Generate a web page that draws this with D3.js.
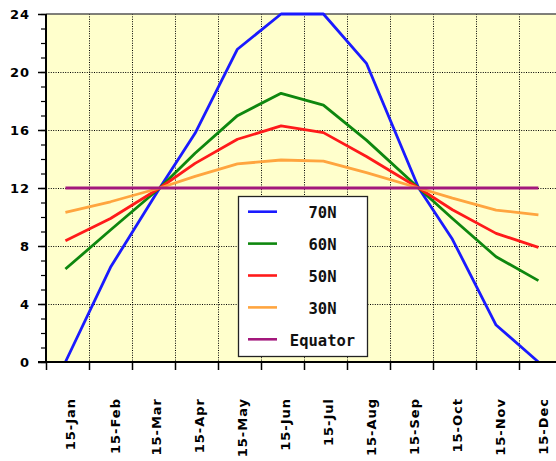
<!DOCTYPE html>
<html>
<head>
<meta charset="utf-8">
<script src="https://cdn.jsdelivr.net/npm/d3@7/dist/d3.min.js"></script>
<style>
  html, body { margin: 0; padding: 0; background: #ffffff; }
  svg { display: block; }
</style>
</head>
<body>
<script>
// ---- data ----
const dates = ["15-Jan","15-Feb","21-Mar","15-Apr","15-May","15-Jun","15-Jul","15-Aug","21-Sep","15-Oct","15-Nov","15-Dec"];
const monthNames = ["Jan","Feb","Mar","Apr","May","Jun","Jul","Aug","Sep","Oct","Nov","Dec"];
const daysInMonth = [31,28,31,30,31,30,31,31,30,31,30,31];
const tickLabels = ["15-Jan","15-Feb","15-Mar","15-Apr","15-May","15-Jun","15-Jul","15-Aug","15-Sep","15-Oct","15-Nov","15-Dec"];
const yTicks = [0, 4, 8, 12, 16, 20, 24];

const lat70   = [0, 6.53, 12, 15.77, 21.57, 24, 24, 20.6, 12, 8.46, 2.55, 0];
const lat60   = [6.41, 9.1, 12, 14.4, 16.99, 18.53, 17.72, 15.3, 12, 9.9, 7.26, 5.61];
const lat50   = [8.37, 9.9, 12, 13.7, 15.36, 16.28, 15.82, 14.17, 12, 10.5, 8.87, 7.91];
const lat30   = [10.32, 11.05, 12, 12.8, 13.66, 13.93, 13.86, 13.06, 12, 11.3, 10.48, 10.14];
const equator = [12, 12, 12, 12, 12, 12, 12, 12, 12, 12, 12, 12];

const seriesNames  = ["70N", "60N", "50N", "30N", "Equator"];
const seriesValues = [lat70, lat60, lat50, lat30, equator];
const seriesColors = ["#1a1aff", "#0e870e", "#ff1a1a", "#ffa53f", "#a3187c"];

// month position: month index + fraction of month elapsed
function monthPos(label) {
  const [d, m] = label.split("-");
  const mi = monthNames.indexOf(m);
  return mi + (+d - 1) / daysInMonth[mi];
}

// ---- layout ----
const W = 556, H = 461;
const pLeft = 46, pTop = 14, pBottom = 362;
const monthW = 43;

const svg = d3.select("body").append("svg").attr("width", W).attr("height", H);

const x = d3.scaleLinear().domain([0, 12]).range([pLeft, pLeft + 12 * monthW]);
const y = d3.scaleLinear().domain([0, 24]).range([pBottom, pTop]);

// plot background
svg.append("rect")
  .attr("x", pLeft).attr("y", pTop)
  .attr("width", W - pLeft).attr("height", pBottom - pTop)
  .attr("fill", "#ffffcc");

// grid
const grid = svg.append("g").attr("stroke", "#000").attr("stroke-width", 1)
  .attr("stroke-dasharray", "1,1.4");
grid.selectAll("line.v").data(d3.range(1, 12)).join("line")
  .attr("x1", d => Math.round(x(d)) + 0.5).attr("x2", d => Math.round(x(d)) + 0.5)
  .attr("y1", pTop).attr("y2", pBottom);
grid.selectAll("line.h").data(yTicks.filter(v => v > 0 && v < 24)).join("line")
  .attr("x1", pLeft).attr("x2", W)
  .attr("y1", d => Math.round(y(d)) + 0.5).attr("y2", d => Math.round(y(d)) + 0.5);

// top border
svg.append("line").attr("x1", pLeft).attr("x2", W).attr("y1", pTop).attr("y2", pTop)
  .attr("stroke", "#555").attr("stroke-width", 1.5);

// series lines
const line = d3.line().x((d, i) => x(monthPos(dates[i]))).y(d => y(d));
seriesValues.forEach((vals, k) => {
  svg.append("path")
    .datum(vals)
    .attr("d", line)
    .attr("fill", "none")
    .attr("stroke", seriesColors[k])
    .attr("stroke-width", 2.8)
    .attr("stroke-linejoin", "round");
});

// y axis (major + minor ticks)
const yAxis = svg.append("g").attr("transform", `translate(${pLeft},0)`);
yAxis.call(d3.axisLeft(y).tickValues(d3.range(0, 25, 1)).tickSize(5).tickFormat(""));
yAxis.select(".domain").remove();
yAxis.selectAll(".tick line").attr("stroke", "#000").attr("stroke-width", 1.2);
const yMajor = svg.append("g").attr("transform", `translate(${pLeft},0)`);
yMajor.call(d3.axisLeft(y).tickValues(yTicks).tickSize(8).tickPadding(8));
yMajor.select(".domain").remove();
yMajor.selectAll(".tick line").attr("stroke", "#000").attr("stroke-width", 1.5);
yMajor.selectAll(".tick text")
  .attr("font-family", "'DejaVu Sans', sans-serif")
  .attr("font-weight", "bold")
  .attr("font-size", 13)
  .attr("letter-spacing", 1)
  .attr("fill", "#000");

// x axis
const xAxis = svg.append("g").attr("transform", `translate(0,${pBottom})`);
xAxis.call(d3.axisBottom(x).tickValues(d3.range(0, 12)).tickSize(8).tickFormat(""));
xAxis.select(".domain").remove();
xAxis.selectAll(".tick line").attr("stroke", "#000").attr("stroke-width", 1.5);

// axis lines
svg.append("line").attr("x1", pLeft).attr("x2", pLeft).attr("y1", pTop).attr("y2", pBottom + 1)
  .attr("stroke", "#000").attr("stroke-width", 2);
svg.append("line").attr("x1", pLeft - 8).attr("x2", W).attr("y1", pBottom).attr("y2", pBottom)
  .attr("stroke", "#000").attr("stroke-width", 2.2);

// x labels (rotated)
svg.append("g").selectAll("text").data(tickLabels).join("text")
  .attr("transform", d => `translate(${x(monthPos(d)) + 4.5},398) rotate(-90)`)
  .attr("text-anchor", "end")
  .attr("dy", "0.36em")
  .attr("font-family", "'DejaVu Sans', sans-serif")
  .attr("font-weight", "bold")
  .attr("font-size", 13)
  .attr("letter-spacing", 1)
  .attr("fill", "#000")
  .text(d => d);

// legend
const lg = svg.append("g");
lg.append("rect")
  .attr("x", 238.5).attr("y", 196.5).attr("width", 129).attr("height", 160)
  .attr("fill", "#fff").attr("stroke", "#222").attr("stroke-width", 1.3);
seriesNames.forEach((name, k) => {
  const ly = 211.7 + k * 31.9;
  lg.append("line")
    .attr("x1", 248).attr("x2", 277).attr("y1", ly).attr("y2", ly)
    .attr("stroke", seriesColors[k]).attr("stroke-width", 2.6);
  lg.append("text")
    .attr("x", 322.5).attr("y", ly + 6.3)
    .attr("text-anchor", "middle")
    .attr("font-family", "'DejaVu Sans Mono', monospace")
    .attr("font-weight", "bold")
    .attr("font-size", 15.5)
    .attr("fill", "#111")
    .text(name);
});
</script>
</body>
</html>
